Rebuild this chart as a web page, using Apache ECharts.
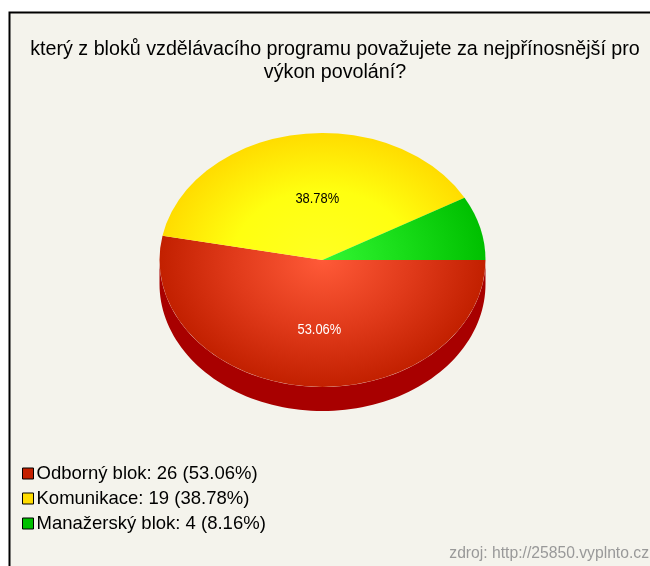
<!DOCTYPE html>
<html>
<head>
<meta charset="utf-8">
<style>html,body{margin:0;padding:0;background:#fff}#c{width:650px;height:566px}</style>
<script src="https://cdn.jsdelivr.net/npm/echarts@6/dist/echarts.min.js"></script>
</head>
<body>
<div id="c"></div>
<script>
const titleLines = ['který z bloků vzdělávacího programu považujete za nejpřínosnější pro', 'výkon povolání?'];
const categories = ['Odborný blok', 'Komunikace', 'Manažerský blok'];
const counts = [26, 19, 4];
const sourceNote = 'zdroj: http://25850.vyplnto.cz';

// Slice colours: legend swatch, gradient centre, gradient middle, gradient rim, extruded side
const swatchColors = ['#c42000', '#ffdc00', '#00c000'];
const innerColors = ['#ff5a38', '#ffff22', '#33f733'];
const middleColors = ['#e03a1a', '#ffff10', '#16da16'];
const rimColors = ['#c22000', '#ffdc00', '#00c000'];
const sideColors = ['#a80000', '#c8aa00', '#008c00'];
const labelColors = ['#ffffff', '#000000', '#000000'];

const FONT = '"Liberation Sans", Arial, sans-serif';
const CX = 322.5, CY = 260, RX = 163, RY = 127, DEPTH = 24;
const total = counts.reduce((a, b) => a + b, 0);
const pct = v => (v / total * 100).toFixed(2) + '%';
const starts = counts.map((_, i) => counts.slice(0, i).reduce((a, b) => a + b, 0) / total * Math.PI * 2);

// Elliptical 3D slice: a sector squashed vertically, plus the side wall where it faces the viewer
function renderSlice(params, api) {
  const i = params.seriesIndex;
  const start = starts[i];
  const end = start + api.value(0) / total * Math.PI * 2;
  const children = [];

  const a = start, b = Math.min(end, Math.PI);
  if (b > a) {
    const top = [], bottom = [];
    for (let k = 0; k <= 90; k++) {
      const t = a + (b - a) * k / 90;
      const x = CX + RX * Math.cos(t), y = CY + RY * Math.sin(t);
      top.push([x, y]);
      bottom.unshift([x, y + DEPTH]);
    }
    children.push({ type: 'polygon', shape: { points: top.concat(bottom) }, style: { fill: sideColors[i] } });
  }

  children.push({
    type: 'sector',
    x: CX, y: CY, scaleY: RY / RX,
    shape: { cx: 0, cy: 0, r0: 0, r: RX, startAngle: start, endAngle: end, clockwise: true },
    style: {
      fill: {
        type: 'radial', x: 0, y: 0, r: RX, global: true,
        colorStops: [
          { offset: 0, color: innerColors[i] },
          { offset: 0.55, color: middleColors[i] },
          { offset: 1, color: rimColors[i] }
        ]
      }
    }
  });

  // Thin slices go unlabelled; the legend carries their share
  if (api.value(0) / total >= 0.1) {
    const mid = (start + end) / 2;
    children.push({
      type: 'text',
      x: CX + RX * 0.2 * Math.cos(mid),
      y: CY + 4.5 + RY * 0.52 * Math.sin(mid),
      scaleX: 0.92,
      z2: 10,
      style: {
        text: pct(api.value(0)), fill: labelColors[i],
        font: '14px ' + FONT, align: 'center', verticalAlign: 'middle'
      }
    });
  }
  return { type: 'group', children };
}

const chart = echarts.init(document.getElementById('c'), null, { renderer: 'canvas' });
chart.setOption({
  animation: false,
  backgroundColor: '#ffffff',
  graphic: [
    { type: 'rect', z: -1, shape: { x: 9.5, y: 12.5, width: 660, height: 580 },
      style: { fill: '#f4f3ec', stroke: '#000000', lineWidth: 2 } },
    { type: 'text', right: 1, top: 546, z: 5,
      style: { text: sourceNote, fill: '#999999', font: '15.7px ' + FONT } }
  ],
  title: {
    text: titleLines.join('\n'),
    left: 330, top: 33, textAlign: 'center',
    textStyle: { color: '#000', fontFamily: FONT, fontSize: 19.7, fontWeight: 'normal', lineHeight: 23 }
  },
  legend: {
    orient: 'vertical', left: 17, top: 459, itemWidth: 11, itemHeight: 11, itemGap: 6,
    icon: 'rect', selectedMode: false,
    data: categories,
    itemStyle: { borderColor: '#000', borderWidth: 1 },
    textStyle: { color: '#000', fontFamily: FONT, fontSize: 18.5, lineHeight: 18, padding: [0, 0, 0, -2] },
    formatter: name => {
      const v = counts[categories.indexOf(name)];
      return name + ': ' + v + ' (' + pct(v) + ')';
    }
  },
  series: categories.map((name, i) => ({
    type: 'custom',
    name,
    coordinateSystem: 'none',
    silent: true,
    itemStyle: { color: swatchColors[i] },
    data: [[counts[i]]],
    renderItem: renderSlice
  }))
});
</script>
</body>
</html>
